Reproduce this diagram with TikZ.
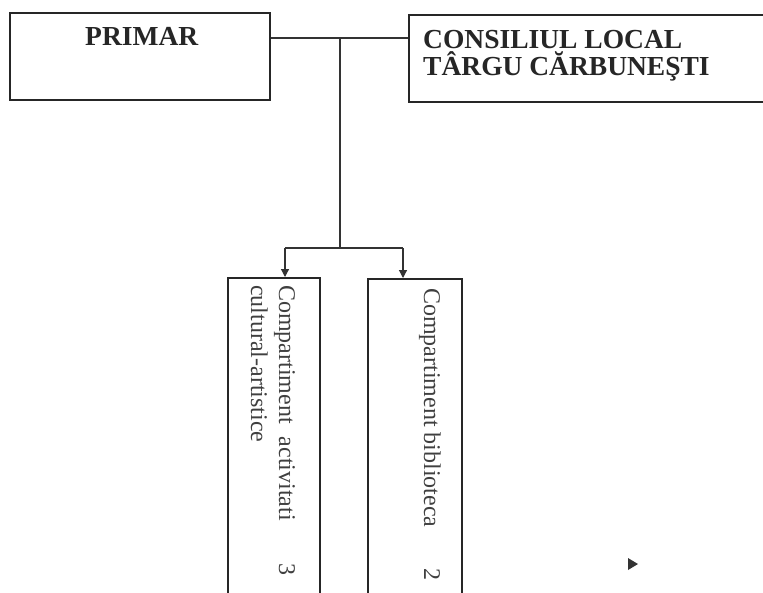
\documentclass[tikz,border=0pt]{standalone}
\usepackage{fontspec}
\setmainfont{Liberation Serif}
\usetikzlibrary{arrows.meta}
\begin{document}
\begin{tikzpicture}[x=1pt,y=-1pt,
  box/.style={draw=black!85, line width=1.5pt, inner sep=0pt, anchor=north west},
  conn/.style={draw=black!80, line width=1.2pt},
  arr/.style={conn, -{Triangle[length=8pt,width=8pt]}},
  head/.style={font=\fontsize{27.5}{27}\selectfont\bfseries, text=black!85, inner sep=0pt, anchor=base west},
  vtxt/.style={font=\fontsize{24}{27}\selectfont, text=black!75, inner sep=0pt, rotate=-90, anchor=base west},
]
\useasboundingbox (0,0) rectangle (763,592);
\fill[white] (0,0) rectangle (763,592);
\begin{scope}
\clip (0,0) rectangle (763,592);
% top boxes
\node[box, minimum width=260pt, minimum height=87pt] (primar) at (9,12) {};
\node[box, minimum width=380pt, minimum height=87pt] (consiliu) at (408,14) {};
\node[head] (primarT) at (85,45) {PRIMAR};
\node[head] (consT1) at (423,48) {CONSILIUL LOCAL};
\node[head] (consT2) at (423,75) {TÂRGU CĂRBUNEŞTI};
% lower boxes
\node[box, minimum width=92pt, minimum height=340pt] (activ) at (227,277) {};
\node[box, minimum width=94pt, minimum height=340pt] (biblio) at (367,278) {};
\node[vtxt] (activT1) at (279,285) {Compartiment\hspace{13pt}activitati};
\node[vtxt] (activT2) at (251,285) {cultural-artistice};
\node[vtxt] (activN) at (279,563) {3};
\node[vtxt] (biblioT) at (424,288) {Compartiment biblioteca};
\node[vtxt] (biblioN) at (424,568) {2};
% connectors
\coordinate (j) at (340,38);
\coordinate (k) at (340,248);
\coordinate (kl) at (285,248);
\coordinate (kr) at (403,248);
\draw[conn] (primar.east |- j) -- (consiliu.west |- j);
\draw[conn] (j) -- (k);
\draw[conn] (kl) -- (kr);
\draw[arr] (kl) -- (kl |- activ.north);
\draw[arr] (kr) -- (kr |- biblio.north);
% stray mark
\fill[black!80] (628,558) -- (638,564) -- (628,570) -- cycle;
\end{scope}
\end{tikzpicture}
\end{document}
